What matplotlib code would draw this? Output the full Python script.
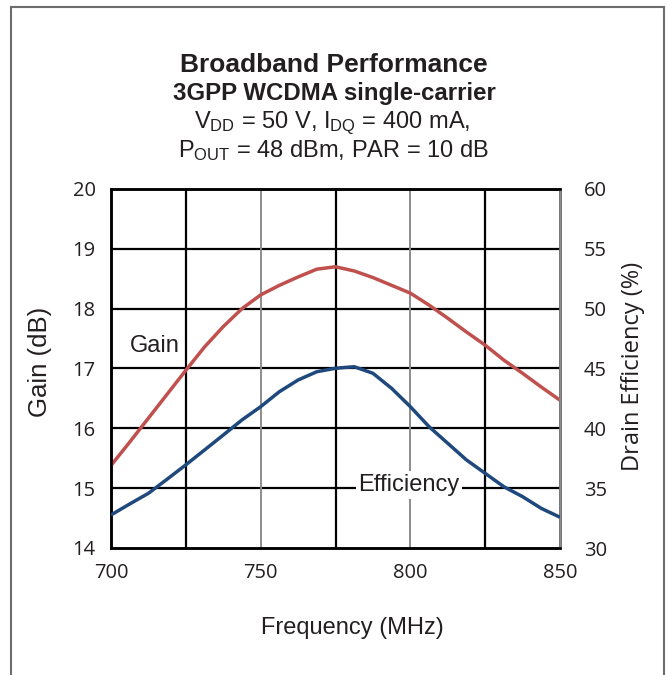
import matplotlib
matplotlib.use("Agg")
import matplotlib.pyplot as plt
from matplotlib.lines import Line2D

plt.rcParams['font.family'] = ['Liberation Sans', 'DejaVu Sans']
plt.rcParams['mathtext.fontset'] = 'custom'
plt.rcParams['mathtext.rm'] = 'Liberation Sans'
plt.rcParams['mathtext.it'] = 'Liberation Sans:italic'
plt.rcParams['mathtext.bf'] = 'Liberation Sans:bold'

freq = [700, 706.25, 712.5, 718.75, 725, 731.25, 737.5, 743.75, 750, 756.25, 762.5,
        768.75, 775, 781.25, 787.5, 793.75, 800, 806.25, 812.5, 818.75, 825,
        831.25, 837.5, 843.75, 850]
gain = [15.38, 15.77, 16.17, 16.57, 16.97, 17.36, 17.70, 18.00, 18.23, 18.39, 18.53,
        18.66, 18.70, 18.63, 18.52, 18.39, 18.26, 18.06, 17.84, 17.61, 17.39,
        17.14, 16.92, 16.69, 16.47]
eff_freq = [700, 706.25, 712.5, 718.75, 725, 731.25, 737.5, 743.75, 750, 756.25, 762.5,
            768.75, 775, 781.25, 787.5, 793.75, 800, 806.25, 812.5, 818.75, 825,
            831.25, 837.5, 843.75, 850]
efficiency = [32.76, 33.68, 34.57, 35.75, 36.95, 38.19, 39.44, 40.70, 41.81, 43.06, 44.04,
              44.73, 45.02, 45.15, 44.60, 43.34, 41.81, 40.14, 38.75, 37.36, 36.24,
              35.12, 34.29, 33.31, 32.57]

x_ticks = [700, 750, 800, 850]
gain_ticks = [14, 15, 16, 17, 18, 19, 20]
eff_ticks = [30, 35, 40, 45, 50, 55, 60]

W, H = 666, 675
fig = plt.figure(figsize=(W/100, H/100), dpi=100)
ax = fig.add_axes([111/W, 1-548/H, (560-111)/W, (548-189)/H])
ax2 = ax.twinx()

ax.set_xlim(700, 850)
ax.set_ylim(14, 20)
ax2.set_ylim(30, 60)

# grid
for g in gain_ticks[1:-1]:
    ax.axhline(g, color='black', lw=1.6, zorder=1)
for f in [725, 775, 825]:
    ax.axvline(f, color='black', lw=1.6, zorder=1)
for f in [750, 800]:
    ax.axvline(f, color='#8c8c8c', lw=1.4, zorder=1)

ax.plot(freq, gain, color='#C0504D', lw=2.5, zorder=3, solid_capstyle='butt')
ax2.plot(eff_freq, efficiency, color='#1F497D', lw=2.5, zorder=3, solid_capstyle='butt')

tc = '#231f20'
for a in (ax, ax2):
    for s in a.spines.values():
        s.set_linewidth(1.8)
        s.set_color('black')
    a.tick_params(length=0, labelsize=14.5, colors=tc)
ax2.spines['right'].set_color('#8c8c8c')
ax.set_xticks(x_ticks)
ax.set_yticks(gain_ticks)
ax2.set_yticks(eff_ticks)
ax.tick_params(axis='x', pad=11)
ax.tick_params(axis='y', pad=11)
ax2.tick_params(axis='y', pad=17)
for lab in ax.get_xticklabels() + ax.get_yticklabels() + ax2.get_yticklabels():
    lab.set_fontfamily(['Open Sans', 'DejaVu Sans'])

fig.text(352/W, 1-628/H, 'Frequency (MHz)', fontsize=17, color=tc, ha='center', va='center')
fig.text(40/W, 1-362/H, 'Gain (dB)', fontsize=18.5, color=tc, ha='center', va='center', rotation=90)
fig.text(633/W, 1-366/H, 'Drain Efficiency (%)', fontsize=17, color=tc, ha='center', va='center',
         rotation=90, family=['Open Sans', 'DejaVu Sans'])

fig.text(155/W, 1-346/H, 'Gain', fontsize=17, color=tc, ha='center', va='center')
fig.text(409/W, 1-485/H, 'Efficiency', fontsize=17, color=tc, ha='center', va='center', zorder=5,
         bbox=dict(boxstyle='square,pad=0.12', fc='white', ec='none'))

fig.text(334/W, 1-72/H, 'Broadband Performance', fontsize=19, fontweight='bold',
         ha='center', va='baseline', color=tc)
fig.text(334/W, 1-100/H, '3GPP WCDMA single-carrier', fontsize=17.3, fontweight='bold',
         ha='center', va='baseline', color=tc)
fig.text(332/W, 1-128/H, r'V$_{\mathrm{DD}}$ = 50 V, I$_{\mathrm{DQ}}$ = 400 mA,', fontsize=17,
         ha='center', va='baseline', color=tc)
fig.text(333/W, 1-157/H, r'P$_{\mathrm{OUT}}$ = 48 dBm, PAR = 10 dB', fontsize=17,
         ha='center', va='baseline', color=tc)

# frame
bc = '#6d6d6d'
fig.add_artist(Line2D([11/W, 11/W], [0, 1-7/H], transform=fig.transFigure, color=bc, lw=1.5))
fig.add_artist(Line2D([11/W, 664/W], [1-7/H, 1-7/H], transform=fig.transFigure, color=bc, lw=1.5))
fig.add_artist(Line2D([664/W, 664/W], [0, 1-7/H], transform=fig.transFigure, color=bc, lw=1.5))

fig.savefig('out.png', dpi=100)
